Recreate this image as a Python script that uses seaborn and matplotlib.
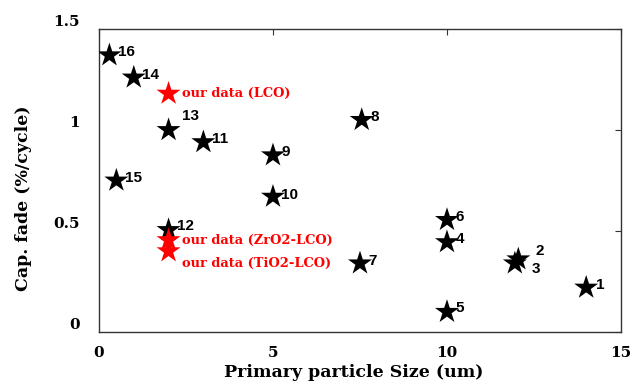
import pandas as pd
import matplotlib
matplotlib.use("Agg")
import matplotlib.pyplot as plt
import seaborn as sns

# literature points (numbered)
lit_labels = ["1", "2", "3", "4", "5", "6", "7", "8",
              "9", "10", "11", "12", "13", "14", "15", "16"]
lit_size = [14.0, 12.05, 11.95, 10.0, 10.0, 10.0, 7.5, 7.55,
            5.0, 5.0, 3.0, 2.0, 2.0, 1.0, 0.5, 0.3]
lit_fade = [0.22, 0.36, 0.34, 0.445, 0.10, 0.555, 0.34, 1.05,
            0.875, 0.67, 0.94, 0.505, 1.0, 1.26, 0.75, 1.37]

# our own samples
our_labels = ["our data (LCO)", "our data (ZrO2-LCO)", "our data (TiO2-LCO)"]
our_size = [2.0, 2.0, 2.0]
our_fade = [1.18, 0.455, 0.40]

# label offsets in points (dx, dy)
lit_offsets = {"1": (7, 2), "2": (12, 6), "3": (12, -4), "4": (6, 2),
               "5": (6, 3), "6": (6, 2), "7": (6, 2), "8": (6, 2),
               "9": (6, 2), "10": (6, 1), "11": (6, 2), "12": (6, 3),
               "13": (10, 10), "14": (6, 2), "15": (6, 2), "16": (6, 2)}
our_offsets = [(10, 0), (10, 0), (10, -9)]

df = pd.DataFrame({
    "size": lit_size + our_size,
    "fade": lit_fade + our_fade,
    "group": ["lit"] * len(lit_size) + ["ours"] * len(our_size),
})

sns.set_style("white")
plt.rcParams["text.color"] = "black"
plt.rcParams["xtick.color"] = "black"
plt.rcParams["ytick.color"] = "black"
plt.rcParams["axes.labelcolor"] = "black"
serif = ["DejaVu Serif"]
sans = ["Liberation Sans", "DejaVu Sans"]

fig = plt.figure(figsize=(6.32, 3.89), dpi=100)
ax = fig.add_axes([0.1566, 0.1465, 0.826, 0.779])

sns.scatterplot(data=df, x="size", y="fade", hue="group",
                palette={"lit": "black", "ours": "#ff0000"},
                marker="*", s=330, linewidth=0, legend=False, ax=ax,
                zorder=3)

for lab, x, y in zip(lit_labels, lit_size, lit_fade):
    ax.annotate(lab, (x, y), xytext=lit_offsets[lab], textcoords="offset points",
                fontsize=11, fontweight="bold", family=sans,
                color="black", va="center", ha="left")

for lab, x, y, off in zip(our_labels, our_size, our_fade, our_offsets):
    ax.annotate(lab, (x, y), xytext=off, textcoords="offset points",
                fontsize=9.4, fontweight="bold", family=serif,
                color="#ff0000", va="center", ha="left")

ax.set_xlim(0, 15)
ax.set_ylim(0, 1.5)
ax.set_xticks([0, 5, 10, 15])
ax.set_yticks([0, 0.5, 1, 1.5])
ax.set_xticklabels(["0", "5", "10", "15"])
ax.set_yticklabels(["0", "0.5", "1", "1.5"])
ax.tick_params(direction="in", length=4, width=0.8, color="#333333",
               top=True, right=True, labelsize=11)
ax.tick_params(axis="x", pad=10)
ax.tick_params(axis="y", pad=14)
for lbl in ax.get_xticklabels() + ax.get_yticklabels():
    lbl.set_family(serif)
    lbl.set_fontweight("bold")
for lbl in ax.get_yticklabels():
    lbl.set_va("bottom")

for sp in ax.spines.values():
    sp.set_color("#333333")
    sp.set_linewidth(1.0)

ax.set_xlabel("Primary particle Size (um)", family=serif, fontweight="bold",
              fontsize=12.5)
ax.set_ylabel("Cap. fade (%/cycle)", family=serif, fontweight="bold",
              fontsize=12.5)
ax.xaxis.set_label_coords(0.487, -0.105)
ax.yaxis.set_label_coords(-0.128, 0.44)

fig.savefig("out.png", dpi=100)
